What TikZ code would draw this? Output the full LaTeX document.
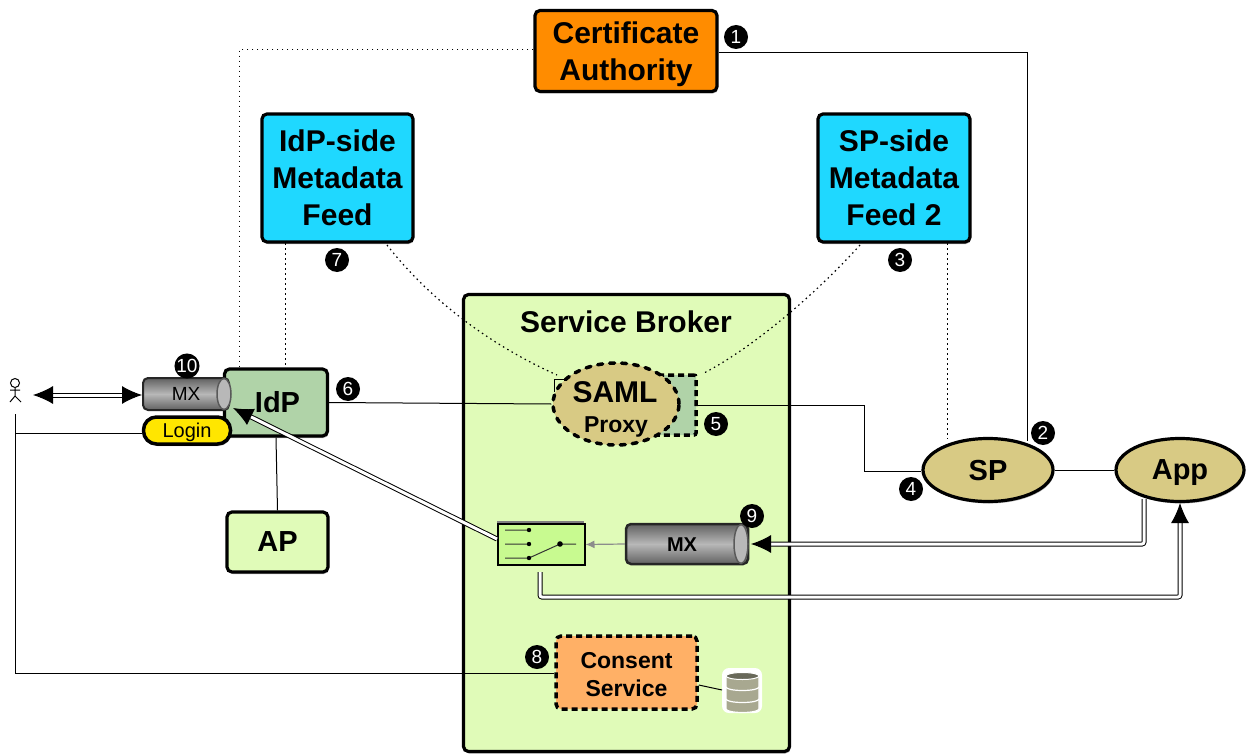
\documentclass[tikz,border=0pt]{standalone}
\usepackage{fontspec}
\setmainfont{Liberation Sans}
\usetikzlibrary{shapes.geometric,arrows.meta,shadows,calc}
\definecolor{caorange}{HTML}{FF8C00}
\definecolor{feedcyan}{HTML}{1FD8FF}
\definecolor{brokergreen}{HTML}{E0FBB8}
\definecolor{idpgreen}{HTML}{B0D3A8}
\definecolor{ovaltan}{HTML}{D8CA84}
\definecolor{consentorange}{HTML}{FFB066}
\definecolor{loginyellow}{HTML}{FFE600}
\definecolor{switchgreen}{HTML}{C8FA90}
\definecolor{dbgrey}{HTML}{A8A890}
\newcommand{\fs}[2]{\fontsize{#1}{#2}\selectfont}
\tikzset{
  softshadow/.style={drop shadow={opacity=.3,shadow xshift=1pt,shadow yshift=-2pt,fill=black}},
  boxnode/.style={draw=black,line width=3.2pt,rounded corners=5pt,inner sep=0pt,align=center,font=\fs{30}{37}\bfseries,softshadow},
  oval/.style={ellipse,draw=black,line width=3.2pt,fill=ovaltan,inner sep=0pt,font=\fs{29}{35}\bfseries,text depth=0pt,softshadow},
  cylbody/.style={draw=black!85,line width=2pt,rounded corners=5pt,inner sep=0pt,top color=black!62,bottom color=black!62,middle color=black!28,shading angle=0},
  cylend/.style={draw=black!65,line width=1.5pt,fill=black!28},
  badge/.style={circle,fill=black,text=white,inner sep=0pt,minimum size=24pt,font=\fs{19}{19}},
  thin line/.style={draw=black,line width=1pt},
  dotted line/.style={draw=black,line width=1pt,dash pattern=on 1.5pt off 3.5pt},
  twin/.style={draw=black,line width=1pt,double=white,double distance=3pt,rounded corners=2pt},
  bigtip/.style={-{Latex[length=20pt,width=18pt]}},
}
\begin{document}
\begin{tikzpicture}[x=1pt,y=-1pt]
\useasboundingbox (0,0) rectangle (1249,754);
\fill[white] (0,0) rectangle (1249,754);

% boxes
\node[boxnode,fill=brokergreen,minimum width=326pt,minimum height=457pt] (broker) at (626.5,523) {};
\node[font=\fs{30}{35}\bfseries] (brokerlabel) at (626,322) {Service Broker};
\node[boxnode,fill=caorange,minimum width=182pt,minimum height=81pt] (ca) at (626,51) {};
\node[align=center,font=\fs{30}{37}\bfseries,inner sep=0pt] (calabel) at (626,54) {Certificate\\Authority};
\node[boxnode,fill=feedcyan,minimum width=151pt,minimum height=128pt] (idpfeed) at (337.5,178) {IdP-side\\Metadata\\Feed};
\node[boxnode,fill=feedcyan,minimum width=152pt,minimum height=128pt] (spfeed) at (894,178) {SP-side\\Metadata\\Feed 2};
\node[boxnode,font=\fs{29}{37}\bfseries,fill=idpgreen,minimum width=103pt,minimum height=67pt] (idp) at (276,402.5) {\hspace*{3pt}IdP};
\node[boxnode,font=\fs{29}{37}\bfseries,fill=brokergreen,minimum width=101pt,minimum height=60pt] (ap) at (277.5,542) {AP};

% proxy
\node[draw=black,line width=3.5pt,dash pattern=on 6pt off 4pt,rounded corners=2pt,fill=idpgreen,minimum width=58pt,minimum height=60pt,inner sep=0pt] (proxybox) at (667,405) {};
\draw[thin line] (554,392) -- (554,379.5) -- (572,379.5);
\node[ellipse,draw=black,line width=3.5pt,dash pattern=on 5pt off 7pt,line cap=round,fill=ovaltan,minimum width=126pt,minimum height=82pt,inner sep=0pt,align=center] (proxy) at (616,404) {};
\node[font=\fs{30}{30}\bfseries] (samllabel) at (615,392) {SAML};
\node[font=\fs{23}{23}\bfseries] (proxylabel) at (616,426.5) {Proxy};

% sp, app
\node[oval,minimum width=130pt,minimum height=63pt] (sp) at (988,470) {SP};
\node[oval,minimum width=128pt,minimum height=63pt] (app) at (1180,470) {App};

% consent
\node[draw=black,line width=3.5pt,dash pattern=on 6pt off 4pt,rounded corners=5pt,fill=consentorange,minimum width=141pt,minimum height=73pt,inner sep=0pt] (consent) at (626.5,672.5) {};
\node[align=center,font=\fs{23}{28}\bfseries,inner sep=0pt] (consentlabel) at (626.5,674.5) {Consent\\Service};

% small MX
\node[cylbody,minimum width=86pt,minimum height=32pt] (mxs) at (186,394) {};
\draw[cylend] (224,394) ellipse [x radius=7,y radius=15.5];
\node[font=\fs{19}{19}] (mxslabel) at (186,394) {MX};

% login
\node[draw=black,line width=3.5pt,rounded corners=13pt,fill=loginyellow,minimum width=87pt,minimum height=27pt,inner sep=0pt,softshadow] (login) at (187,430.5) {};
\node[font=\fs{20}{20}] (loginlabel) at (187,432) {Login};

% big MX
\node[cylbody,line width=2.5pt,minimum width=122pt,minimum height=40pt] (mxb) at (687,544) {};
\draw[cylend] (741,544) ellipse [x radius=7,y radius=19.5];
\node[font=\fs{20}{20}\bfseries] (mxblabel) at (682,545) {MX};

% switch
\fill[black!50] (497,520.5) rectangle (584,525);
\node[draw=black,line width=2pt,fill=switchgreen,minimum width=87pt,minimum height=41pt,inner sep=0pt] (switch) at (541,544.5) {};
\draw[line width=1pt,draw=black!80] (505,530) -- (529,530) (505,544) -- (529,544) (505,558) -- (529,558) -- (560,544) -- (576,544);
\fill[black] (529,530) circle (2.2) (529,544) circle (2.2) (529,558) circle (2.2) (560,544) circle (2.8);

% database
\fill[white,rounded corners=7pt] (722,668) rectangle (762,713);
\foreach \ya/\yb in {699/709,687/699,676/687}{
  \fill[dbgrey,draw=white,line width=1.2pt] (726,\ya) -- (726,\yb) arc [start angle=180,end angle=360,x radius=16.5,y radius=-3.5] -- (759,\ya) arc [start angle=0,end angle=180,x radius=16.5,y radius=-3.5] -- cycle;
}
\fill[black!38!dbgrey,draw=white,line width=1pt] (742.5,676) ellipse [x radius=16.5,y radius=3.5];
\node[inner sep=0pt,minimum width=40pt,minimum height=45pt] (db) at (742,690) {};

% actor
\draw[line width=1pt] (15,383) circle (4.5);
\draw[line width=1pt] (15,387.5) -- (15,396) (10,390) -- (20,390) (10,402) -- (15,396) -- (21,402);
\coordinate (actorarrow) at (33,395);
\coordinate (actorline) at (15,414);
\coordinate (actorloginturn) at (15,433);
\coordinate (actorconsentturn) at (15,673);

% coordinates
\coordinate (caleft) at (239,50);
\coordinate (idptopa) at (239,367);
\coordinate (idptopb) at (285,367);
\coordinate (idpfeedb) at (285,243);
\coordinate (caright) at (1027,53);
\coordinate (spright) at (1027,441);
\coordinate (spfeedb) at (947,243);
\coordinate (sptop) at (947,439);
\coordinate (jog1) at (864,405);
\coordinate (jog2) at (864,471);
\coordinate (appdown) at (1144,499);
\coordinate (appturn) at (1144,544);
\coordinate (swdown) at (540,572);
\coordinate (swturn) at (540,597);
\coordinate (appturnb) at (1180,597);
\coordinate (apparrow) at (1180,503);
\coordinate (mxarrow) at (751,544);
\coordinate (mxstip) at (233,408);
\coordinate (swout) at (497,539);

% dotted connectors
\draw[dotted line] (ca.west |- caleft) -- (caleft) -- (idptopa);
\draw[dotted line] (idpfeedb) -- (idptopb);
\draw[dotted line] (spfeedb) -- (sptop);
\draw[dotted line,line width=1.2pt] (387,245) .. controls (430,300) and (490,345) .. (557,375);
\draw[dotted line,line width=1.2pt] (860,245) .. controls (815,295) and (750,350) .. (702,374);

% solid connectors
\draw[thin line] (ca.east |- caright) -- (caright) -- (spright);
\draw[thin line] (idp.east) -- (proxy.west);
\draw[thin line] (proxybox.east) -- (jog1) -- (jog2) -- (sp.west |- jog2);
\draw[thin line] (sp.east) -- (app.west);
\draw[thin line] (idp.south) -- (ap.north);
\draw[thin line] (actorline) -- (actorconsentturn) -- (consent.west |- actorconsentturn);
\draw[thin line] (actorloginturn) -- (login.west |- actorloginturn);
\draw[thin line] (consent.east |- 0,685) -- (722,690);

% arrows
\draw[draw=black!45,line width=1.2pt,-{Latex[length=9pt,width=8pt]}] (mxb.west) -- (switch.east);
\draw[twin,{Latex[length=20pt,width=18pt]}-{Latex[length=20pt,width=18pt]}] (actorarrow) -- (mxs.west |- actorarrow);
\draw[twin,bigtip] (appdown) -- (appturn) -- (mxarrow);
\draw[twin,bigtip] (swdown) -- (swturn) -- (appturnb) -- (apparrow);
\draw[twin,bigtip] (swout) -- (mxstip);

% badges
\node[badge] (b1) at (736,37) {1};
\node[badge] (b2) at (1043,433) {2};
\node[badge] (b3) at (900,260) {3};
\node[badge] (b4) at (911,489) {4};
\node[badge] (b5) at (716,424) {5};
\node[badge] (b6) at (348,389) {6};
\node[badge] (b7) at (337,260) {7};
\node[badge] (b8) at (537,657) {8};
\node[badge] (b9) at (752,516) {9};
\node[badge] (b10) at (187,366) {10};
\end{tikzpicture}
\end{document}
